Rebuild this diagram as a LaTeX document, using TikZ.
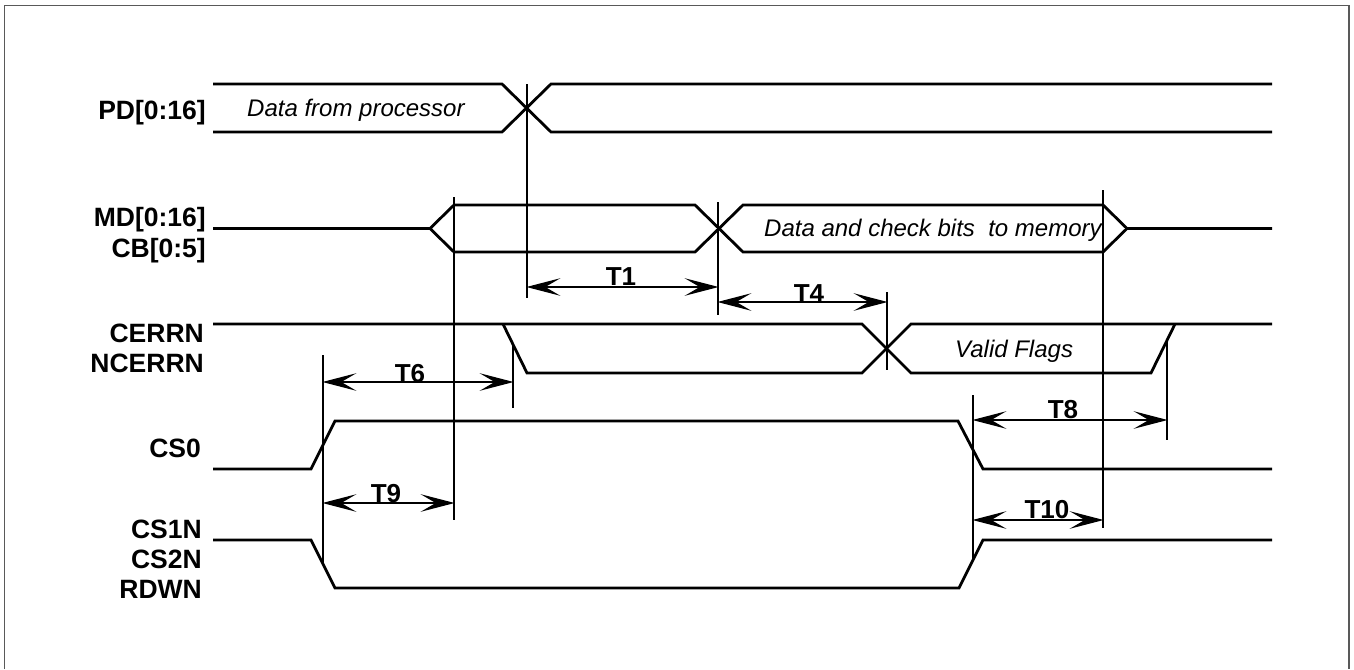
\documentclass[tikz,border=0pt]{standalone}
\usepackage{fontspec}
\setmainfont{Liberation Sans}
\begin{document}
\begin{tikzpicture}[x=1pt,y=-1pt,
  sig/.style={line width=2.8pt, line join=miter},
  vline/.style={line width=2pt},
  dimline/.style={line width=2.8pt},
  headshape/.style={fill=black, draw=black, line width=1.3pt, line join=miter},
  pics/ahead/.style={code={\path[headshape] (0,0) -- (27,-7) -- (15,0) -- (27,7) -- cycle;}},
  lab/.style={font=\fontsize{26.5}{30}\selectfont\bfseries, anchor=base east, inner sep=0pt},
  itxt/.style={font=\fontsize{24}{28}\selectfont\itshape, anchor=base west, inner sep=0pt},
  tlab/.style={font=\fontsize{26}{30}\selectfont\bfseries, anchor=base, inner sep=0pt},
  frame/.style={line width=1.5pt, draw=black!65}]
\useasboundingbox (0,0) rectangle (1354,669);
\draw[frame] (4.3,669) -- (4.3,5.7) -- (1349,5.7) -- (1349,669);

% signal labels
\node[lab] (lpd) at (206,119) {PD[0:16]};
\node[lab] (lmd) at (206,226) {MD[0:16]};
\node[lab] (lcb) at (206,257) {CB[0:5]};
\node[lab] (lce) at (204,342) {CERRN};
\node[lab] (lnc) at (204,372) {NCERRN};
\node[lab] (lcs0) at (201,457) {CS0};
\node[lab] (lcs1) at (202,538) {CS1N};
\node[lab] (lcs2) at (202,568) {CS2N};
\node[lab] (lrd) at (202,598) {RDWN};

% PD bus
\draw[sig] (213,84) -- (502,84) -- (551,132) -- (1272,132);
\draw[sig] (213,132) -- (502,132) -- (551,84) -- (1272,84);
\node[itxt] (tpd) at (247,116) {Data from processor};

% MD / CB bus
\draw[sig] (213,228.5) -- (430,228.5) -- (454,205) -- (695,205) -- (743,252) -- (1103,252) -- (1127,228.5) -- (1272,228.5);
\draw[sig] (430,228.5) -- (454,252) -- (695,252) -- (743,205) -- (1103,205) -- (1127,228.5);
\node[itxt] (tmd) at (764,236) {Data and check bits\ \ to memory};

% CERRN / NCERRN
\draw[sig] (213,324) -- (862,324) -- (911,373) -- (1151,373) -- (1175,324);
\draw[sig] (503,324) -- (527,373) -- (862,373) -- (911,324) -- (1272,324);
\node[itxt] (tvf) at (955,357) {Valid Flags};

% CS0
\draw[sig] (213,469) -- (311,469) -- (335,421) -- (958,421) -- (983,469) -- (1272,469);

% CS1N / CS2N / RDWN
\draw[sig] (213,540) -- (311,540) -- (335,588) -- (959,588) -- (983,540) -- (1272,540);

% reference lines
\coordinate (a1) at (323,355);  \coordinate (a2) at (323,565);
\coordinate (b1) at (454,197);  \coordinate (b2) at (454,520);
\coordinate (c1) at (513,345);  \coordinate (c2) at (513,408);
\coordinate (d1) at (527,84);   \coordinate (d2) at (527,298);
\coordinate (e1) at (718,202);  \coordinate (e2) at (718,315);
\coordinate (f1) at (887,292);  \coordinate (f2) at (887,370);
\coordinate (g1) at (973,395);  \coordinate (g2) at (973,560);
\coordinate (h1) at (1103,190); \coordinate (h2) at (1103,528);
\coordinate (k1) at (1167,341); \coordinate (k2) at (1167,440);
\foreach \p in {a,b,c,d,e,f,g,h,k} \draw[vline] (\p1) -- (\p2);

% timing arrows
\coordinate (t1a) at (527,287);  \coordinate (t1b) at (718,287);
\coordinate (t4a) at (718,302);  \coordinate (t4b) at (887,302);
\coordinate (t6a) at (323,382);  \coordinate (t6b) at (513,382);
\coordinate (t9a) at (323,503);  \coordinate (t9b) at (454,503);
\coordinate (t8a) at (973,420);  \coordinate (t8b) at (1167,420);
\coordinate (t10a) at (973,520); \coordinate (t10b) at (1103,520);
\foreach \q in {t1,t4,t6,t9,t8,t10} {
  \draw[dimline] ([xshift=10pt]\q a) -- ([xshift=-10pt]\q b);
  \pic at ([xshift=2pt]\q a) {ahead};
  \pic[xscale=-1] at ([xshift=-2pt]\q b) {ahead};
}
\node[tlab] (lt1) at (621,285) {T1};
\node[tlab] (lt4) at (809,302) {T4};
\node[tlab] (lt6) at (410,382) {T6};
\node[tlab] (lt9) at (386,502) {T9};
\node[tlab] (lt8) at (1063,418) {T8};
\node[tlab] (lt10) at (1047,518) {T10};
\end{tikzpicture}
\end{document}
